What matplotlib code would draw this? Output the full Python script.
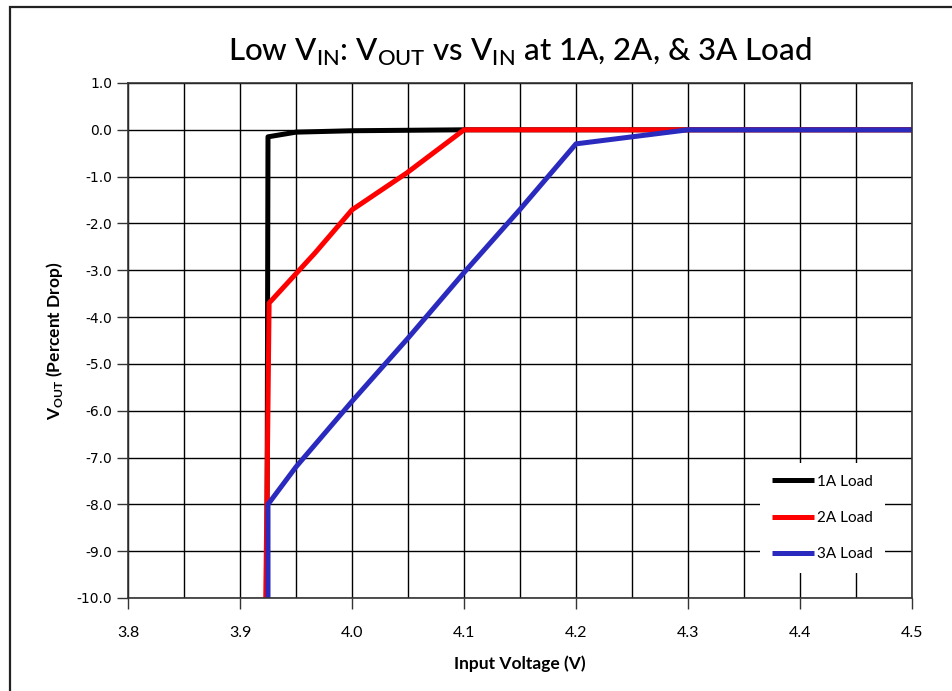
import matplotlib
matplotlib.use('Agg')
import matplotlib.pyplot as plt
from matplotlib.ticker import MultipleLocator
from matplotlib.patches import Rectangle

# data
vin_1a = [3.924, 3.925, 3.95, 4.0, 4.05, 4.1, 4.2, 4.3, 4.4, 4.5]
vout_1a = [-10.0, -0.15, -0.05, -0.02, -0.01, 0.0, 0.0, 0.0, 0.0, 0.0]

vin_2a = [3.923, 3.924, 3.926, 3.967, 4.0, 4.049, 4.1, 4.2, 4.3, 4.4, 4.5]
vout_2a = [-10.0, -8.0, -3.7, -2.63, -1.71, -0.92, 0.0, 0.0, 0.0, 0.0, 0.0]

vin_3a = [3.925, 3.925, 3.95, 4.0, 4.05, 4.1, 4.15, 4.2, 4.3, 4.4, 4.5]
vout_3a = [-10.0, -8.0, -7.2, -5.8, -4.45, -3.05, -1.7, -0.3, 0.0, 0.0, 0.0]

plt.rcParams['font.family'] = ['Lato', 'DejaVu Sans']
plt.rcParams['mathtext.fontset'] = 'custom'
plt.rcParams['mathtext.rm'] = 'Lato:medium'
plt.rcParams['mathtext.bf'] = 'Lato:bold'

fig = plt.figure(figsize=(9.53, 6.91), dpi=100)
ax = fig.add_axes([0.1343, 0.1346, 0.8227, 0.7453])

# outer frame (only top and left visible in the picture)
fig.patches.append(Rectangle((10/953, -0.05), 1.2, 1-7/691+0.05, transform=fig.transFigure,
                             fill=False, edgecolor='#222222', linewidth=1.6))

ax.plot(vin_1a, vout_1a, color='black', lw=3.6, label='1A Load', solid_capstyle='butt')
ax.plot(vin_2a, vout_2a, color='#ff0000', lw=3.6, label='2A Load', solid_capstyle='butt')
ax.plot(vin_3a, vout_3a, color='#2a2abf', lw=3.6, label='3A Load', solid_capstyle='butt')

ax.set_xlim(3.8, 4.5)
ax.set_ylim(-10, 1)
ax.xaxis.set_major_locator(MultipleLocator(0.1))
ax.xaxis.set_minor_locator(MultipleLocator(0.05))
ax.yaxis.set_major_locator(MultipleLocator(1.0))
ax.set_xticklabels([f'{v:.1f}' for v in ax.get_xticks()])
ax.yaxis.set_major_formatter(matplotlib.ticker.FormatStrFormatter('%.1f'))
ax.grid(which='both', axis='x', color='black', lw=1.0)
ax.grid(which='major', axis='y', color='black', lw=1.0)
ax.set_axisbelow(True)
ax.tick_params(which='major', direction='out', length=8, width=1, color='#333333')
ax.tick_params(which='minor', length=0)
ax.tick_params(axis='x', labelsize=11.5, pad=12)
for lbl in ax.get_yticklabels():
    lbl.set_family('DejaVu Sans')
    lbl.set_fontsize(10)
for s in ax.spines.values():
    s.set_color('#333333')
    s.set_linewidth(1.2)

ax.set_xlabel('Input Voltage (V)', fontsize=12.5, fontweight='bold', labelpad=11)
ax.set_ylabel(r'V$_{\mathbf{OUT}}$ (Percent Drop)', fontsize=12.5, fontweight='bold', labelpad=8)
ax.set_title(r'Low V$_{\mathrm{IN}}$: V$_{\mathrm{OUT}}$ vs V$_{\mathrm{IN}}$ at 1A, 2A, & 3A Load',
             fontsize=22.5, fontweight='medium', pad=16)

leg = ax.legend(loc='lower right', bbox_to_anchor=(0.975, 0.033), frameon=True, fancybox=False,
                edgecolor='none', facecolor='white', framealpha=1, fontsize=11,
                handlelength=2.7, handletextpad=0.2, labelspacing=1.45, borderpad=0.8)

fig.savefig('out.png', dpi=100)
